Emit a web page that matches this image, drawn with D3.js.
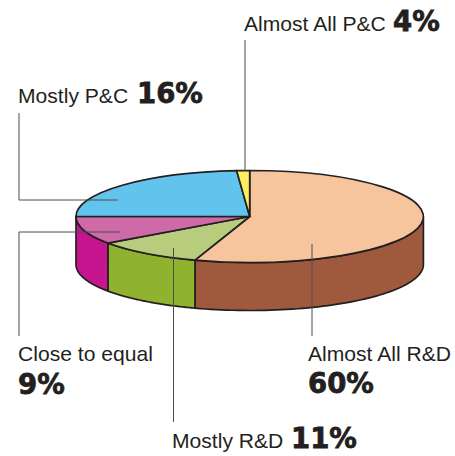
<!DOCTYPE html>
<html><head><meta charset="utf-8">
<script src="https://cdn.jsdelivr.net/npm/d3@7"></script>
<style>html,body{margin:0;padding:0;background:#fff}svg{display:block}</style>
</head><body><svg id="c" width="455" height="456"></svg>
<script>
// Labels state 60/11/9/16/4, but the wedges as drawn in the picture have other shares.
const categories = ["Almost All R&D","Mostly R&D","Close to equal","Mostly P&C","Almost All P&C"];
const labelPercents = [60,11,9,16,4];
const drawnShares = [55.1,10.1,9.8,23.8,1.2];
const topColors = ["#f6c59d","#b7cc7c","#cf6aa8","#62c3ec","#fbee5f"];
const wallColors = ["#9f5a3e","#8fb22f","#c5158f","#62c3ec","#fbee5f"];

const cx=249.7, cy=216.5, rx=173.7, ry=46, depth=48;
const ink="#231f20", leadInk="#4d4d4f";
const svg=d3.select("#c");
const pie=d3.pie().sort(null).value(d=>d)(drawnShares);
const px=a=>cx+rx*Math.sin(a), py=a=>cy-ry*Math.cos(a);

// walls
const wallLine=d3.line();
pie.forEach((p,i)=>{
  const a0=Math.max(p.startAngle,Math.PI/2), a1=Math.min(p.endAngle,3*Math.PI/2);
  if(a1<=a0) return;
  const t=d3.range(0,61).map(k=>a0+(a1-a0)*k/60);
  const pts=t.map(a=>[px(a),py(a)]).concat(t.slice().reverse().map(a=>[px(a),py(a)+depth]));
  svg.append("path").attr("d",wallLine(pts)+"Z").attr("fill",wallColors[i])
    .attr("stroke",ink).attr("stroke-width",1.7).attr("stroke-linejoin","round");
});

// top face
const arc=d3.arc().innerRadius(0).outerRadius(rx);
const face=svg.append("g").attr("transform",`translate(${cx},${cy}) scale(1,${ry/rx})`);
face.selectAll("path").data(pie).join("path").attr("d",arc)
  .attr("fill",(d,i)=>topColors[i]).attr("stroke",ink).attr("stroke-width",1.7)
  .attr("stroke-linejoin","round").attr("vector-effect","non-scaling-stroke");

// leaders
const leaders=[[[312,244],[312,336]],[[173.5,248],[173.5,422]],[[19,336],[19,232],[120,232]],[[19,113],[19,200],[118,200]],[[245,40],[245,171]]];
svg.selectAll("path.lead").data(leaders).join("path").attr("class","lead")
  .attr("d",d=>d3.line()(d)).attr("fill","none").attr("stroke",leadInk).attr("stroke-width",1);

// text
const sans="'Liberation Sans',Arial,sans-serif", heavy="'DejaVu Sans',sans-serif";
const lab=(t,x,y)=>svg.append("text").attr("x",x).attr("y",y).attr("font-family",sans).attr("font-size",21.1).attr("fill","#231f20").text(t);
const num=(t,x,y)=>svg.append("text").attr("x",x).attr("y",y).attr("font-family",heavy).attr("font-weight",700).attr("font-size",27.5).attr("fill","#231f20").attr("stroke","#231f20").attr("stroke-width",0.8).text(t);
const pct=i=>labelPercents[i]+"%";
lab(categories[4],244,31); num(pct(4),393,31);
lab(categories[3],18,103); num(pct(3),137,103);
lab(categories[2],18,361); num(pct(2),18,394);
lab(categories[0],308,361); num(pct(0),308,393);
lab(categories[1],172,448); num(pct(1),291,448);
</script></body></html>
